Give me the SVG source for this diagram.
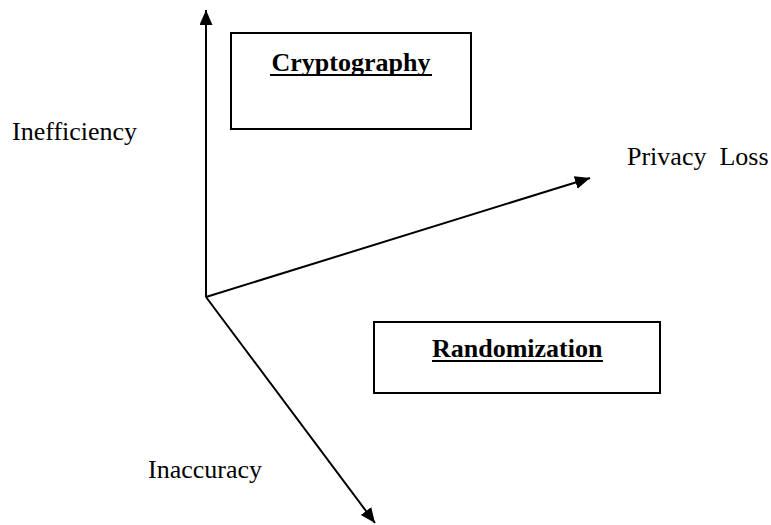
<svg xmlns="http://www.w3.org/2000/svg" width="771" height="525" viewBox="0 0 771 525">
  <style>
    .lbl { font-family: "Liberation Serif", "Times New Roman", serif; font-size: 26px; fill: #000; white-space: pre; }
    .title { font-family: "Liberation Serif", "Times New Roman", serif; font-size: 26px; font-weight: bold; fill: #000; }
    .box { fill: #fff; stroke: #000; stroke-width: 2; }
    .axis { fill: none; stroke: #000; stroke-width: 2; }
    .ul { stroke: #000; stroke-width: 2.2; }
  </style>
  <defs>
    <marker id="arrow" markerUnits="userSpaceOnUse" markerWidth="16" markerHeight="14" refX="15" refY="6.5" orient="auto">
      <path d="M0,0 L15,6.5 L0,13 Z" fill="#000"/>
    </marker>
  </defs>
  <rect width="771" height="525" fill="#fff"/>
  <g id="connectors">
    <line class="axis" x1="206" y1="297" x2="206" y2="10" marker-end="url(#arrow)"/>
    <line class="axis" x1="206" y1="297" x2="590" y2="178" marker-end="url(#arrow)"/>
    <line class="axis" x1="206" y1="297" x2="375" y2="523" marker-end="url(#arrow)"/>
  </g>
  <g id="cryptography">
    <rect class="box" x="231" y="33" width="240" height="96"/>
    <text class="title" x="351" y="71" text-anchor="middle">Cryptography</text>
    <line class="ul" x1="270" y1="75" x2="432" y2="75"/>
  </g>
  <g id="randomization">
    <rect class="box" x="374" y="322" width="286" height="71"/>
    <text class="title" x="432" y="357">Randomization</text>
    <line class="ul" x1="432" y1="361" x2="603" y2="361"/>
  </g>
  <g id="label-inefficiency">
    <text class="lbl" x="12" y="140">Inefficiency</text>
  </g>
  <g id="label-privacy-loss">
    <text class="lbl" x="627" y="165">Privacy  Loss</text>
  </g>
  <g id="label-inaccuracy">
    <text class="lbl" x="148" y="478">Inaccuracy</text>
  </g>
</svg>
